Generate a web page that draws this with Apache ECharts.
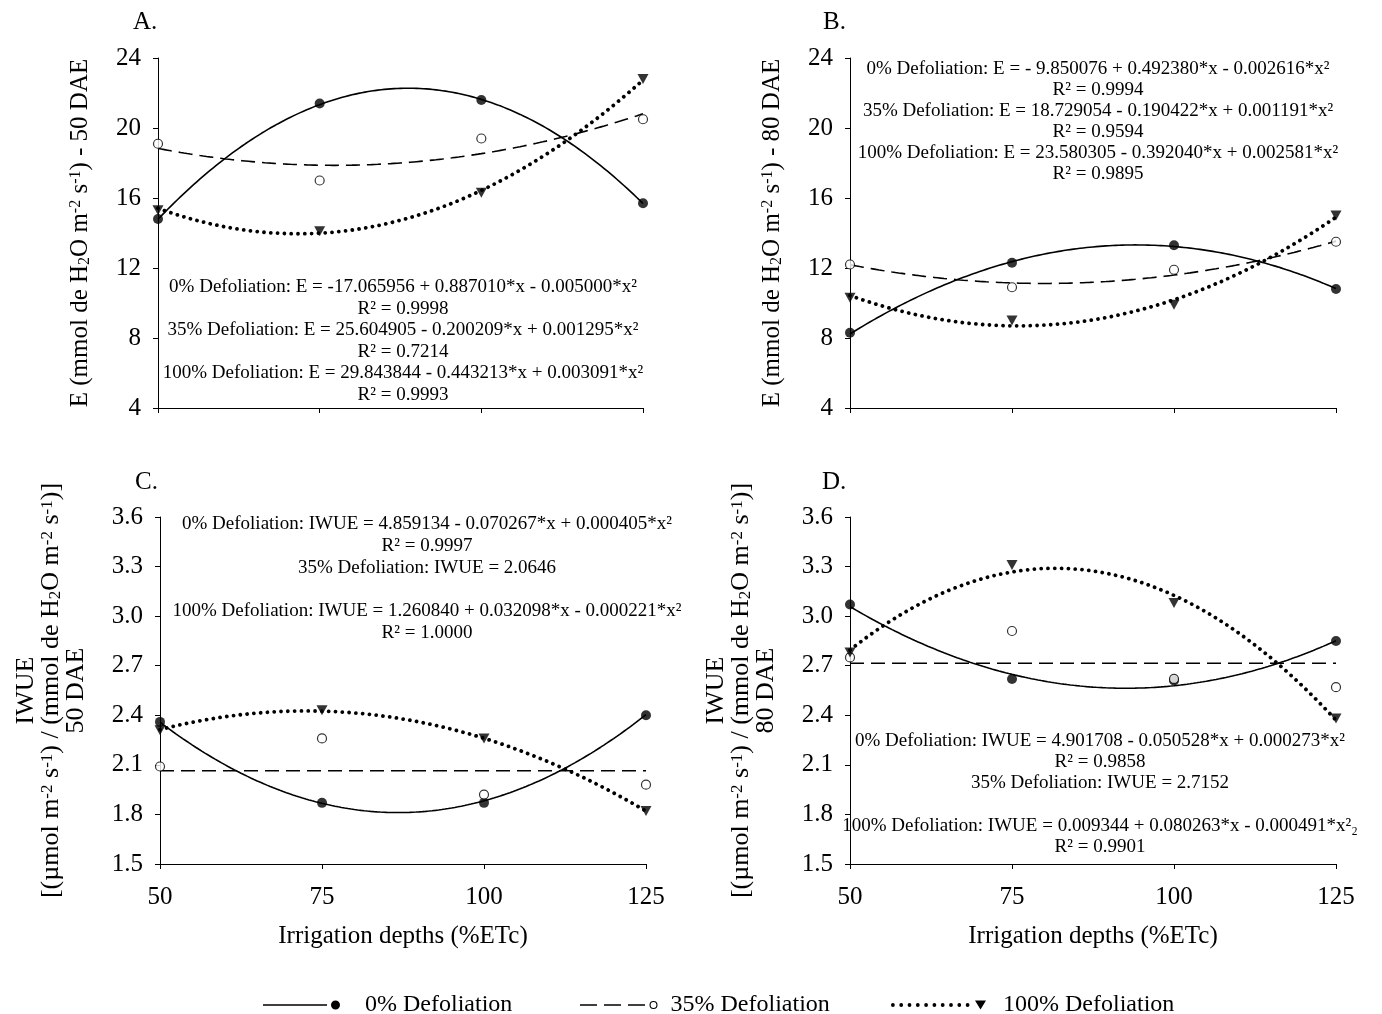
<!DOCTYPE html>
<html>
<head>
<meta charset="utf-8">
<script src="https://cdn.jsdelivr.net/npm/echarts@6/dist/echarts.min.js"></script>
<style>
  html, body { margin: 0; padding: 0; background: #fff; }
  #main { width: 1382px; height: 1014px; }
</style>
</head>
<body>
<div id="main"></div>
<script>
// irrigation depths (%ETc)
var depths = [50, 75, 100, 125];

// A. E - 50 DAE (observed means)
var aDef0 = [14.8, 21.4, 21.6, 15.7];
var aDef35 = [19.1, 17.0, 19.4, 20.5];
var aDef100 = [15.3, 14.1, 16.3, 22.8];
// B. E - 80 DAE
var bDef0 = [8.3, 12.3, 13.3, 10.8];
var bDef35 = [12.2, 10.9, 11.9, 13.5];
var bDef100 = [10.3, 9.0, 9.9, 15.0];
// C. IWUE - 50 DAE
var cDef0 = [2.36, 1.87, 1.87, 2.40];
var cDef35 = [2.09, 2.26, 1.92, 1.98];
var cDef100 = [2.31, 2.43, 2.26, 1.82];
// D. IWUE - 80 DAE
var dDef0 = [3.07, 2.62, 2.61, 2.85];
var dDef35 = [2.75, 2.91, 2.62, 2.57];
var dDef100 = [2.78, 3.31, 3.08, 2.38];

// regression coefficients [b0, b1, b2] as printed on each panel
var aFit0 = [-17.065956, 0.887010, -0.005000];
var aFit35 = [25.604905, -0.200209, 0.001295];
var aFit100 = [29.843844, -0.443213, 0.003091];
var bFit0 = [-9.850076, 0.492380, -0.002616];
var bFit35 = [18.729054, -0.190422, 0.001191];
var bFit100 = [23.580305, -0.392040, 0.002581];
var cFit0 = [4.859134, -0.070267, 0.000405];
var cFit35 = [2.0646, 0, 0];
var cFit100 = [1.260840, 0.032098, -0.000221];
var dFit0 = [4.901708, -0.050528, 0.000273];
var dFit35 = [2.7152, 0, 0];
var dFit100 = [0.009344, 0.080263, -0.000491];

var seriesNames = ["0% Defoliation", "35% Defoliation", "100% Defoliation"];

var eqA = [
  "0% Defoliation: E = -17.065956 + 0.887010*x - 0.005000*x²", "R² = 0.9998",
  "35% Defoliation: E = 25.604905 - 0.200209*x + 0.001295*x²", "R² = 0.7214",
  "100% Defoliation: E = 29.843844 - 0.443213*x + 0.003091*x²", "R² = 0.9993"
];
var eqB = [
  "0% Defoliation: E = - 9.850076 + 0.492380*x - 0.002616*x²", "R² = 0.9994",
  "35% Defoliation: E = 18.729054 - 0.190422*x + 0.001191*x²", "R² = 0.9594",
  "100% Defoliation: E = 23.580305 - 0.392040*x + 0.002581*x²", "R² = 0.9895"
];
var eqC = [
  "0% Defoliation: IWUE = 4.859134 - 0.070267*x + 0.000405*x²", "R² = 0.9997",
  "35% Defoliation: IWUE = 2.0646", "",
  "100% Defoliation: IWUE = 1.260840 + 0.032098*x - 0.000221*x²", "R² = 1.0000"
];
var eqD = [
  "0% Defoliation: IWUE = 4.901708 - 0.050528*x + 0.000273*x²", "R² = 0.9858",
  "35% Defoliation: IWUE = 2.7152", "",
  "100% Defoliation: IWUE = 0.009344 + 0.080263*x - 0.000491*x²₂", "R² = 0.9901"
];

var serif = '"Liberation Serif", "Times New Roman", serif';

(function(){
  var myChart = echarts.init(document.getElementById('main'));

  function fitLine(c) {
    var pts = [];
    for (var x = 50; x <= 125; x += 0.5) {
      pts.push([x, c[0] + c[1] * x + c[2] * x * x]);
    }
    return pts;
  }
  function pairs(vals) {
    return depths.map(function (d, i) { return [d, vals[i]]; });
  }

  var lineStyles = [
    { color: "#000", width: 1.6, type: "solid" },
    { color: "#000", width: 1.6, type: [14, 7] },
    { color: "#000", width: 3.8, type: [0.01, 6.8], cap: "round" }
  ];
  var markers = [
    { symbol: "circle", symbolSize: 10, symbolRotate: 0, itemStyle: { color: "#000" } },
    { symbol: "circle", symbolSize: 9, symbolRotate: 0, itemStyle: { color: "#fff", borderColor: "#000", borderWidth: 1.2 } },
    { symbol: "triangle", symbolSize: [11, 10], symbolRotate: 180, itemStyle: { color: "#000" } }
  ];

  var panels = [
    { fits: [aFit0, aFit35, aFit100], obs: [aDef0, aDef35, aDef100] },
    { fits: [bFit0, bFit35, bFit100], obs: [bDef0, bDef35, bDef100] },
    { fits: [cFit0, cFit35, cFit100], obs: [cDef0, cDef35, cDef100] },
    { fits: [dFit0, dFit35, dFit100], obs: [dDef0, dDef35, dDef100] }
  ];

  var series = [];
  panels.forEach(function (p, g) {
    for (var k = 0; k < 3; k++) {
      series.push({
        name: seriesNames[k],
        type: "line",
        xAxisIndex: g,
        yAxisIndex: g,
        showSymbol: false,
        symbol: "none",
        smooth: false,
        silent: true,
        z: 2,
        lineStyle: lineStyles[k],
        itemStyle: { color: "#000" },
        data: fitLine(p.fits[k])
      });
    }
    for (var k2 = 0; k2 < 3; k2++) {
      series.push({
        name: seriesNames[k2],
        type: "scatter",
        xAxisIndex: g,
        yAxisIndex: g,
        symbol: markers[k2].symbol,
        symbolSize: markers[k2].symbolSize,
        symbolRotate: markers[k2].symbolRotate,
        itemStyle: markers[k2].itemStyle,
        z: 5,
        data: pairs(p.obs[k2])
      });
    }
  });

  var grids = [
    { left: 158, top: 58, width: 485, height: 350 },
    { left: 850, top: 58, width: 486, height: 350 },
    { left: 160, top: 517, width: 486, height: 347 },
    { left: 850, top: 517, width: 486, height: 347 }
  ];

  function nameRich(sz) {
    return {
      sup: { fontSize: sz, lineHeight: sz, verticalAlign: "top", fontFamily: serif, color: "#000" },
      sub: { fontSize: sz, lineHeight: sz, verticalAlign: "bottom", fontFamily: serif, color: "#000" }
    };
  }

  function xAxisCfg(g, withLabels) {
    return {
      gridIndex: g,
      type: "value",
      min: 50,
      max: 125,
      interval: 25,
      axisLine: { show: true, lineStyle: { color: "#000", width: 1 } },
      axisTick: { show: true, length: 5, lineStyle: { color: "#000" } },
      splitLine: { show: false },
      axisLabel: { show: withLabels, color: "#000", fontSize: 25, fontFamily: serif, margin: 21 },
      name: withLabels ? "Irrigation depths (%ETc)" : "",
      nameLocation: "middle",
      nameGap: 60,
      nameTextStyle: { color: "#000", fontSize: 25, fontFamily: serif }
    };
  }
  function yAxisCfg(g, min, max, interval, digits, name, gap, fs) {
    return {
      gridIndex: g,
      type: "value",
      min: min,
      max: max,
      interval: interval,
      axisLine: { show: true, lineStyle: { color: "#000", width: 1 } },
      axisTick: { show: true, length: 5, lineStyle: { color: "#000" } },
      splitLine: { show: false },
      axisLabel: {
        color: "#000", fontSize: 25, fontFamily: serif, margin: 17,
        formatter: function (v) { return v.toFixed(digits); }
      },
      name: name,
      nameLocation: "middle",
      nameRotate: 90,
      nameGap: gap,
      nameTextStyle: { color: "#000", fontSize: fs, fontFamily: serif, lineHeight: 25, rich: nameRich(Math.round(fs * 0.64)) }
    };
  }

  var eTitle = function (dae) {
    return "E (mmol de H{sub|2}O m{sup|-2} s{sup|-1}) - " + dae + " DAE";
  };
  var wTitle = function (dae) {
    return "IWUE\n[(µmol m{sup|-2} s{sup|-1}) / (mmol de H{sub|2}O m{sup|-2} s{sup|-1})]\n" + dae + " DAE";
  };

  function eqText(lines, cx, firstY, lh) {
    return {
      type: "text",
      x: cx,
      y: firstY - lh / 2,
      silent: true,
      style: {
        text: lines.join("\n"),
        textAlign: "center",
        textVerticalAlign: "top",
        fill: "#000",
        font: '19px ' + serif,
        lineHeight: lh
      }
    };
  }
  function panelLetter(t, x, y) {
    return {
      type: "text", x: x, y: y, silent: true,
      style: { text: t, fill: "#000", font: '25px ' + serif, textVerticalAlign: "middle" }
    };
  }

  // legend icons: line sample followed by the marker
  var dots = "";
  for (var i = 0; i < 10; i++) {
    var cx = 1.9 + i * 8.3;
    dots += "M" + (cx - 1.9) + ",4.5 A1.9,1.9 0 1,0 " + (cx + 1.9) + ",4.5 A1.9,1.9 0 1,0 " + (cx - 1.9) + ",4.5 Z ";
  }
  var icons = [
    "path://M0,3.7 H64 V5.3 H0 Z M68,4.5 A4.5,4.5 0 1,0 77,4.5 A4.5,4.5 0 1,0 68,4.5 Z",
    "path://M0,3.2 H17 V4.8 H0 Z M24,3.2 H41 V4.8 H24 Z M48,3.2 H65 V4.8 H48 Z " +
      "M69.5,4 A4,4 0 1,0 77.5,4 A4,4 0 1,0 69.5,4 Z M70.6,4 A2.9,2.9 0 1,1 76.4,4 A2.9,2.9 0 1,1 70.6,4 Z",
    "path://" + dots + "M84,0 H95 L89.5,9 Z"
  ];
  function legendCfg(k, left, w, h, pad) {
    return {
      left: left,
      top: 988,
      itemWidth: w,
      itemHeight: h,
      selectedMode: false,
      itemStyle: { color: "#000", borderWidth: 0 },
      formatter: "{t|{name}}",
      textStyle: {
        color: "#000", fontSize: 24, fontFamily: serif,
        rich: { t: { fontSize: 24, fontFamily: serif, color: "#000", padding: [0, 0, 0, pad] } }
      },
      data: [{ name: seriesNames[k], icon: icons[k] }]
    };
  }

  var option = {
    backgroundColor: "#fff",
    animation: false,
    textStyle: { fontFamily: serif, color: "#000" },
    grid: grids,
    xAxis: [xAxisCfg(0, false), xAxisCfg(1, false), xAxisCfg(2, true), xAxisCfg(3, true)],
    yAxis: [
      yAxisCfg(0, 4, 24, 4, 0, eTitle(50), 65, 25),
      yAxisCfg(1, 4, 24, 4, 0, eTitle(80), 65, 25),
      yAxisCfg(2, 1.5, 3.6, 0.3, 1, wTitle(50), 71, 26),
      yAxisCfg(3, 1.5, 3.6, 0.3, 1, wTitle(80), 71, 26)
    ],
    legend: [
      legendCfg(0, 258, 77, 9, 20),
      legendCfg(1, 575, 77.5, 8, 8),
      legendCfg(2, 886, 95, 9, 12)
    ],
    graphic: [
      panelLetter("A.", 133, 22),
      panelLetter("B.", 823, 22),
      panelLetter("C.", 135, 482),
      panelLetter("D.", 822, 482),
      eqText(eqA, 403, 287, 21.6),
      eqText(eqB, 1098, 69, 21.1),
      eqText(eqC, 427, 524, 21.8),
      eqText(eqD, 1100, 741, 21.2)
    ],
    series: series
  };

  myChart.setOption(option);
  window.addEventListener("resize", function() {
    myChart.resize();
  });
})();
</script>
</body>
</html>
